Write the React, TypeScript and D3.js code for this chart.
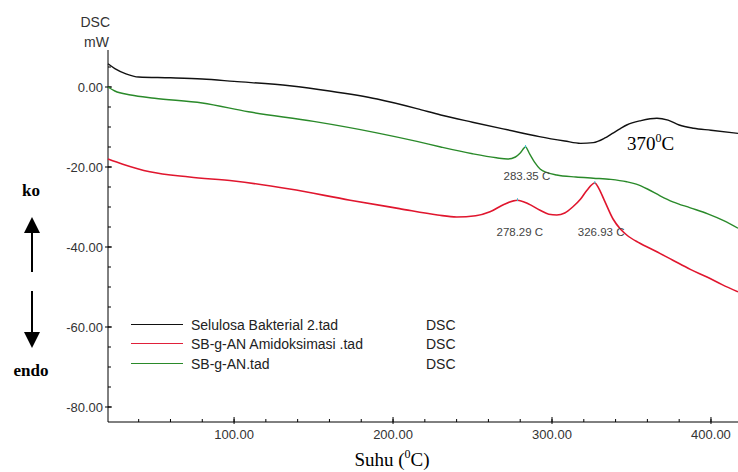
import React from "react";
import * as d3 from "d3";

const W = 738;
const H = 472;

const xTicks = [100, 200, 300, 400];
const yTicks = [0, -20, -40, -60, -80];

// [temperature °C, heat flow mW]
const blackSeries: [number, number][] = [
  [20.7, 5.8], [25, 4.6], [32, 3.3], [40, 2.5], [60, 2.3], [80, 2.0], [100, 1.4],
  [135, 0.3], [160, -1.0], [190, -3.0], [215, -5.4], [230, -7.0], [250, -8.8], [272, -10.7],
  [292, -12.4], [308, -13.5], [318, -14.1], [326, -13.9], [333, -12.8], [338, -11.6],
  [343, -10.4], [347, -9.5], [356, -8.4], [366, -7.8], [373, -8.3], [380, -9.5], [389, -10.3],
  [400, -10.8], [417, -11.6],
];

const greenSeries: [number, number][] = [
  [20.7, 0], [25, -1.0], [35, -2.0], [50, -2.8], [80, -4.0], [109, -6.2], [150, -8.6],
  [189, -11.4], [215, -13.6], [230, -15.0], [250, -16.7], [265, -17.7], [272, -18.0],
  [277, -17.5], [280, -16.5], [283.35, -15.0], [286, -16.8], [289, -18.8], [292.5, -20.5],
  [297, -21.4], [303, -22.0], [315, -22.5], [326, -22.8], [337, -23.1], [347, -23.7],
  [353, -24.3], [360, -25.5], [368, -27.2], [376, -28.7], [387, -30.2], [398, -31.7],
  [408, -33.4], [417, -35.3],
];

const redSeries: [number, number][] = [
  [20.7, -18.0], [30, -19.3], [47, -21.2], [72, -22.5], [100, -23.5], [135, -25.5],
  [173, -28.3], [204, -30.4], [228, -32.0], [240, -32.5], [252, -32.2], [261, -31.2], [270, -29.3],
  [278.29, -28.3], [285, -29.2], [292.5, -30.8], [298, -31.8], [303, -32.0], [308, -31.5],
  [313, -30.0], [318, -28.0], [322, -25.8], [326.93, -24.0], [329.5, -25.4], [333, -28.4],
  [338.4, -33.0], [343, -35.5], [347, -37.0], [355, -39.0], [365, -41.0], [376, -43.3],
  [387, -45.6], [397.5, -47.5], [407, -49.4], [417, -51.2],
];

const peaks = [
  { t: 283.35, v: -15.0, label: "283.35  C", dx: -22, dy: 33 },
  { t: 278.29, v: -28.3, label: "278.29  C", dx: -21, dy: 36 },
  { t: 326.93, v: -24.0, label: "326.93  C", dx: -17, dy: 53 },
];

const legendItems = [
  { name: "Selulosa Bakterial 2.tad", color: "#111111" },
  { name: "SB-g-AN Amidoksimasi .tad", color: "#e0203a" },
  { name: "SB-g-AN.tad", color: "#2a8a2a" },
];

export default function App() {
  const x = d3.scaleLinear().domain([20.7, 417]).range([108, 738]);
  const y = d3.scaleLinear().domain([-83.75, 9.25]).range([422, 50]);
  const line = d3
    .line<[number, number]>()
    .x((d) => x(d[0]))
    .y((d) => y(d[1]))
    .curve(d3.curveMonotoneX);

  const xMinor = d3.range(40, 420, 20);
  const yMinor = d3.range(5, -85, -5);
  const font = "Arial, 'Liberation Sans', sans-serif";
  const serif = "'Times New Roman', 'Liberation Serif', serif";
  const legendRows = [324.5, 343.5, 363.5];

  return (
    <svg
      width={W}
      height={H}
      style={{ position: "absolute", left: 0, top: 0, background: "#fff" }}
    >
      <rect width={W} height={H} fill="#fff" />
      {/* axis label */}
      <text x={110} y={27} textAnchor="end" fontFamily={font} fontSize={14} fill="#333">DSC</text>
      <text x={109} y={47} textAnchor="end" fontFamily={font} fontSize={14} fill="#333">mW</text>

      {/* y axis */}
      <line x1={x(20.7)} x2={x(20.7)} y1={y(9.25)} y2={y(-83.75)} stroke="#000" />
      {yMinor.map((v) => (
        <line key={"ym" + v} x1={x(20.7)} x2={x(20.7) + 3} y1={y(v)} y2={y(v)} stroke="#000" />
      ))}
      {yTicks.map((v) => (
        <g key={"yt" + v}>
          <line x1={x(20.7) - 3} x2={x(20.7) + 4} y1={y(v)} y2={y(v)} stroke="#000" />
          <text x={x(20.7) - 5} y={y(v) + 5} textAnchor="end" fontFamily={font} fontSize={13} fill="#333">
            {v.toFixed(2)}
          </text>
        </g>
      ))}

      {/* x axis */}
      <line x1={x(20.7)} x2={x(417)} y1={y(-83.75)} y2={y(-83.75)} stroke="#000" />
      {xMinor.map((t) => (
        <line key={"xm" + t} x1={x(t)} x2={x(t)} y1={y(-83.75)} y2={y(-83.75) - 3} stroke="#000" />
      ))}
      {xTicks.map((t) => (
        <g key={"xt" + t}>
          <line x1={x(t)} x2={x(t)} y1={y(-83.75) - 5} y2={y(-83.75) + 2} stroke="#000" />
          <text x={x(t)} y={y(-83.75) + 17} textAnchor="middle" fontFamily={font} fontSize={13} fill="#333">
            {t.toFixed(2)}
          </text>
        </g>
      ))}

      {/* curves */}
      <path d={line(blackSeries) || ""} fill="none" stroke="#111" strokeWidth={1.4} />
      <path d={line(greenSeries) || ""} fill="none" stroke="#2a8a2a" strokeWidth={1.4} />
      <path d={line(redSeries) || ""} fill="none" stroke="#e0162e" strokeWidth={1.6} />

      {/* peak labels */}
      {peaks.map((p) => (
        <g key={p.label}>
          <line x1={x(p.t)} x2={x(p.t)} y1={y(p.v) - 2} y2={y(p.v) + 1} stroke="#40c0d0" strokeWidth={1} />
          <text x={x(p.t) + p.dx} y={y(p.v) + p.dy} fontFamily={font} fontSize={11.5} fill="#444">
            {p.label}
          </text>
        </g>
      ))}

      <text x={627} y={150} fontFamily={serif} fontSize={19} fill="#000">
        370<tspan dy={-8} fontSize={12}>0</tspan><tspan dy={8}>C</tspan>
      </text>

      {/* legend */}
      {legendItems.map((it, i) => (
        <g key={it.name}>
          <line x1={131} x2={183} y1={legendRows[i]} y2={legendRows[i]} stroke={it.color} strokeWidth={1.2} />
          <text x={191} y={legendRows[i] + 5} fontFamily={font} fontSize={14} fill="#222">{it.name}</text>
          <text x={426} y={legendRows[i] + 5} fontFamily={font} fontSize={14} fill="#222">DSC</text>
        </g>
      ))}

      {/* ko / endo */}
      <text x={31} y={196} textAnchor="middle" fontFamily={serif} fontWeight="bold" fontSize={17} fill="#000">ko</text>
      <line x1={32} x2={32} y1={231} y2={272} stroke="#000" strokeWidth={2} />
      <path d="M24,233 L40,233 L32,217 Z" fill="#000" />
      <line x1={32} x2={32} y1={291} y2={334} stroke="#000" strokeWidth={2} />
      <path d="M24,332 L40,332 L32,348 Z" fill="#000" />
      <text x={31} y={376} textAnchor="middle" fontFamily={serif} fontWeight="bold" fontSize={17} fill="#000">endo</text>

      <text x={392} y={466} textAnchor="middle" fontFamily={serif} fontSize={19} fill="#000">
        Suhu (<tspan dy={-8} fontSize={12}>0</tspan><tspan dy={8}>C)</tspan>
      </text>
    </svg>
  );
}
